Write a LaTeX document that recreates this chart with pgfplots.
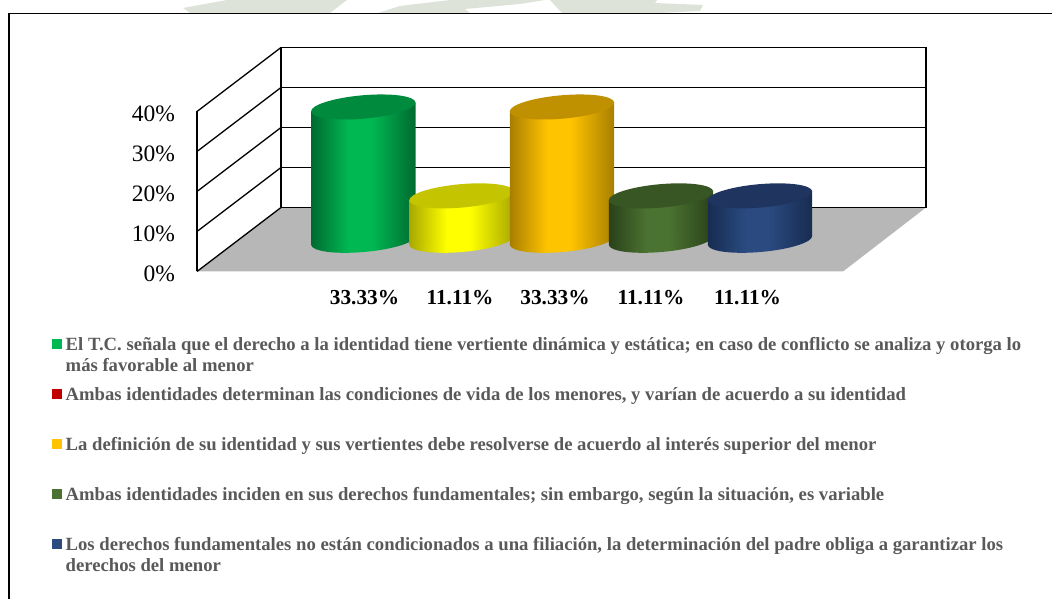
\documentclass[border=0pt]{standalone}
\usepackage{pgfplots}
\pgfplotsset{compat=1.18}
\usepackage{fontspec}
\setmainfont{Liberation Serif}
\usetikzlibrary{shadings}
\definecolor{legtxt}{HTML}{595959}
\definecolor{floorc}{HTML}{B7B7B7}
\definecolor{wm}{HTML}{DDE3D8}
\definecolor{legred}{HTML}{C00000}
\definecolor{gE}{HTML}{006A30}\definecolor{gM}{HTML}{00B852}\definecolor{gT}{HTML}{008A3E}
\definecolor{yE}{HTML}{A8A800}\definecolor{yM}{HTML}{FFFF00}\definecolor{yT}{HTML}{C4C400}
\definecolor{oE}{HTML}{A87E00}\definecolor{oM}{HTML}{FFC400}\definecolor{oT}{HTML}{BF9000}
\definecolor{dE}{HTML}{2A411A}\definecolor{dM}{HTML}{4A7230}\definecolor{dT}{HTML}{375623}
\definecolor{bE}{HTML}{172C50}\definecolor{bM}{HTML}{2A4A80}\definecolor{bT}{HTML}{1F3560}
% #1 key, #2 edge colour, #3 bright colour
\newcommand\mkshade[3]{%
  \pgfdeclarehorizontalshading{sh#1}{100bp}{color(0bp)=(#2); color(25bp)=(#2); color(43bp)=(#3); color(54bp)=(#3); color(75bp)=(#2); color(100bp)=(#2)}%
}
\mkshade{G}{gE}{gM}
\mkshade{Y}{yE}{yM}
\mkshade{O}{oE}{oM}
\mkshade{D}{dE}{dM}
\mkshade{B}{bE}{bM}
% whole cylinder as one plot mark, origin at centre of the top face
% #1 key, #2 top colour, #3 height in pt
\newcommand\mkcyl[3]{%
  \pgfdeclareplotmark{cyl#1}{%
    \pgfpathellipse{\pgfpoint{0pt}{-#3pt}}{\pgfpoint{52.2pt}{4.57pt}}{\pgfpoint{-1.02pt}{11.66pt}}%
    \pgfshadepath{sh#1}{0}\pgfusepath{discard}%
    \pgfpathmoveto{\pgfpoint{-52.2pt}{-#3pt-4.4pt}}%
    \pgfpathlineto{\pgfpoint{52.2pt}{-#3pt+4.4pt}}%
    \pgfpathlineto{\pgfpoint{52.2pt}{4.4pt}}%
    \pgfpathlineto{\pgfpoint{-52.2pt}{-4.4pt}}%
    \pgfpathclose
    \pgfshadepath{sh#1}{0}\pgfusepath{discard}%
    \pgfsetfillcolor{#2}%
    \pgfpathellipse{\pgfpointorigin}{\pgfpoint{52.2pt}{4.57pt}}{\pgfpoint{-1.02pt}{11.66pt}}%
    \pgfusepath{fill}%
  }%
}
\mkcyl{G}{gT}{133.32}
\mkcyl{Y}{yT}{44.44}
\mkcyl{O}{oT}{133.32}
\mkcyl{D}{dT}{44.44}
\mkcyl{B}{bT}{44.44}
\begin{document}
\begin{tikzpicture}[x=1pt,y=1pt]
\path[use as bounding box] (0,0) rectangle (1052,599);
% watermark remnants at the top edge
\fill[wm] (227,599) -- (183,591) -- (190,586) -- (330,586) -- (347,599) -- cycle;
\fill[wm] (378,586) -- (400,593) -- (450,599) -- (545,599) -- (520,595) -- (465,590) -- (470,586) -- cycle;
\fill[wm] (550,599) -- (657,599) -- (655,596) -- (703,594) -- (700,588) -- (660,586) -- (562,586) -- cycle;
% outer frame
\draw[black,line width=1.5pt] (9,0) -- (9,585.3) -- (1052,585.3);
\begin{axis}[
  at={(197pt,327.5pt)},anchor=origin,
  scale only axis,width=729pt,height=160pt,
  xmin=197,xmax=926,ymin=0,ymax=40,
  clip=false,
  axis lines=left,
  x axis line style={draw=none},
  y axis line style={-,black,line width=1.4pt},
  tick style={draw=none},
  ytick={0,10,20,30,40},
  yticklabels={0\%,10\%,20\%,30\%,40\%},
  yticklabel style={font=\fontsize{23.5}{26}\selectfont,anchor=east,xshift=-16.5pt,yshift=-2.5pt},
  xtick={364.5,460,555,651,747.5},
  xticklabels={33.33\%,11.11\%,33.33\%,11.11\%,11.11\%},
  xticklabel style={font=\fontsize{21.33}{24}\bfseries\selectfont,anchor=center,yshift=-23.5pt},
]
% floor
\addplot[draw=none,fill=floorc,mark=none] coordinates {(197,0) (281,16) (926,16) (843,0)} -- cycle;
% back wall and grid lines
\addplot[black,line width=1.5pt,mark=none] coordinates {(281,16) (926,16) (926,56) (281,56) (281,16)};
\addplot[black,line width=1.5pt,mark=none] coordinates {(281,26) (926,26)};
\addplot[black,line width=1.5pt,mark=none] coordinates {(281,36) (926,36)};
\addplot[black,line width=1.5pt,mark=none] coordinates {(281,46) (926,46)};
% side wall
\addplot[black,line width=1.3pt,mark=none] coordinates {(197,0) (281,16)};
\addplot[black,line width=1.3pt,mark=none] coordinates {(197,10) (281,26)};
\addplot[black,line width=1.3pt,mark=none] coordinates {(197,20) (281,36)};
\addplot[black,line width=1.3pt,mark=none] coordinates {(197,30) (281,46)};
\addplot[black,line width=1.3pt,mark=none] coordinates {(197,40) (281,56)};
% cylinders: y = floor offset 7.8 + value (33.33, 11.11, 33.33, 11.11, 11.11)
\addplot[only marks,mark=cylG] coordinates {(363.3,41.13)};
\addplot[only marks,mark=cylY] coordinates {(461.5,18.91)};
\addplot[only marks,mark=cylO] coordinates {(562,41.13)};
\addplot[only marks,mark=cylD] coordinates {(661,18.91)};
\addplot[only marks,mark=cylB] coordinates {(760,18.91)};
\end{axis}
% legend
\newcommand\legitem[3]{%
  \fill[#1] (51.5,#2-5) rectangle (61.5,#2+5);
  \node[anchor=base west,inner sep=0pt,text=legtxt,font=\fontsize{18.67}{21.5}\bfseries\selectfont] at (65.5,#2-6.3) {#3};
}
\newcommand\legline[2]{\node[anchor=base west,inner sep=0pt,text=legtxt,font=\fontsize{18.67}{21.5}\bfseries\selectfont] at (65.5,#1-6.3) {#2};}
\legitem{gM}{255}{El T.C. señala que el derecho a la identidad tiene vertiente dinámica y estática; en caso de conflicto se analiza y otorga lo}
\legline{233.5}{más favorable al menor}
\legitem{legred}{205}{Ambas identidades determinan las condiciones de vida de los menores, y varían de acuerdo a su identidad}
\legitem{oM}{155}{La definición de su identidad y sus vertientes debe resolverse de acuerdo al interés superior del menor}
\legitem{dM}{105}{Ambas identidades inciden en sus derechos fundamentales; sin embargo, según la situación, es variable}
\legitem{bM}{55}{Los derechos fundamentales no están condicionados a una filiación, la determinación del padre obliga a garantizar los}
\legline{33.5}{derechos del menor}
\end{tikzpicture}
\end{document}
